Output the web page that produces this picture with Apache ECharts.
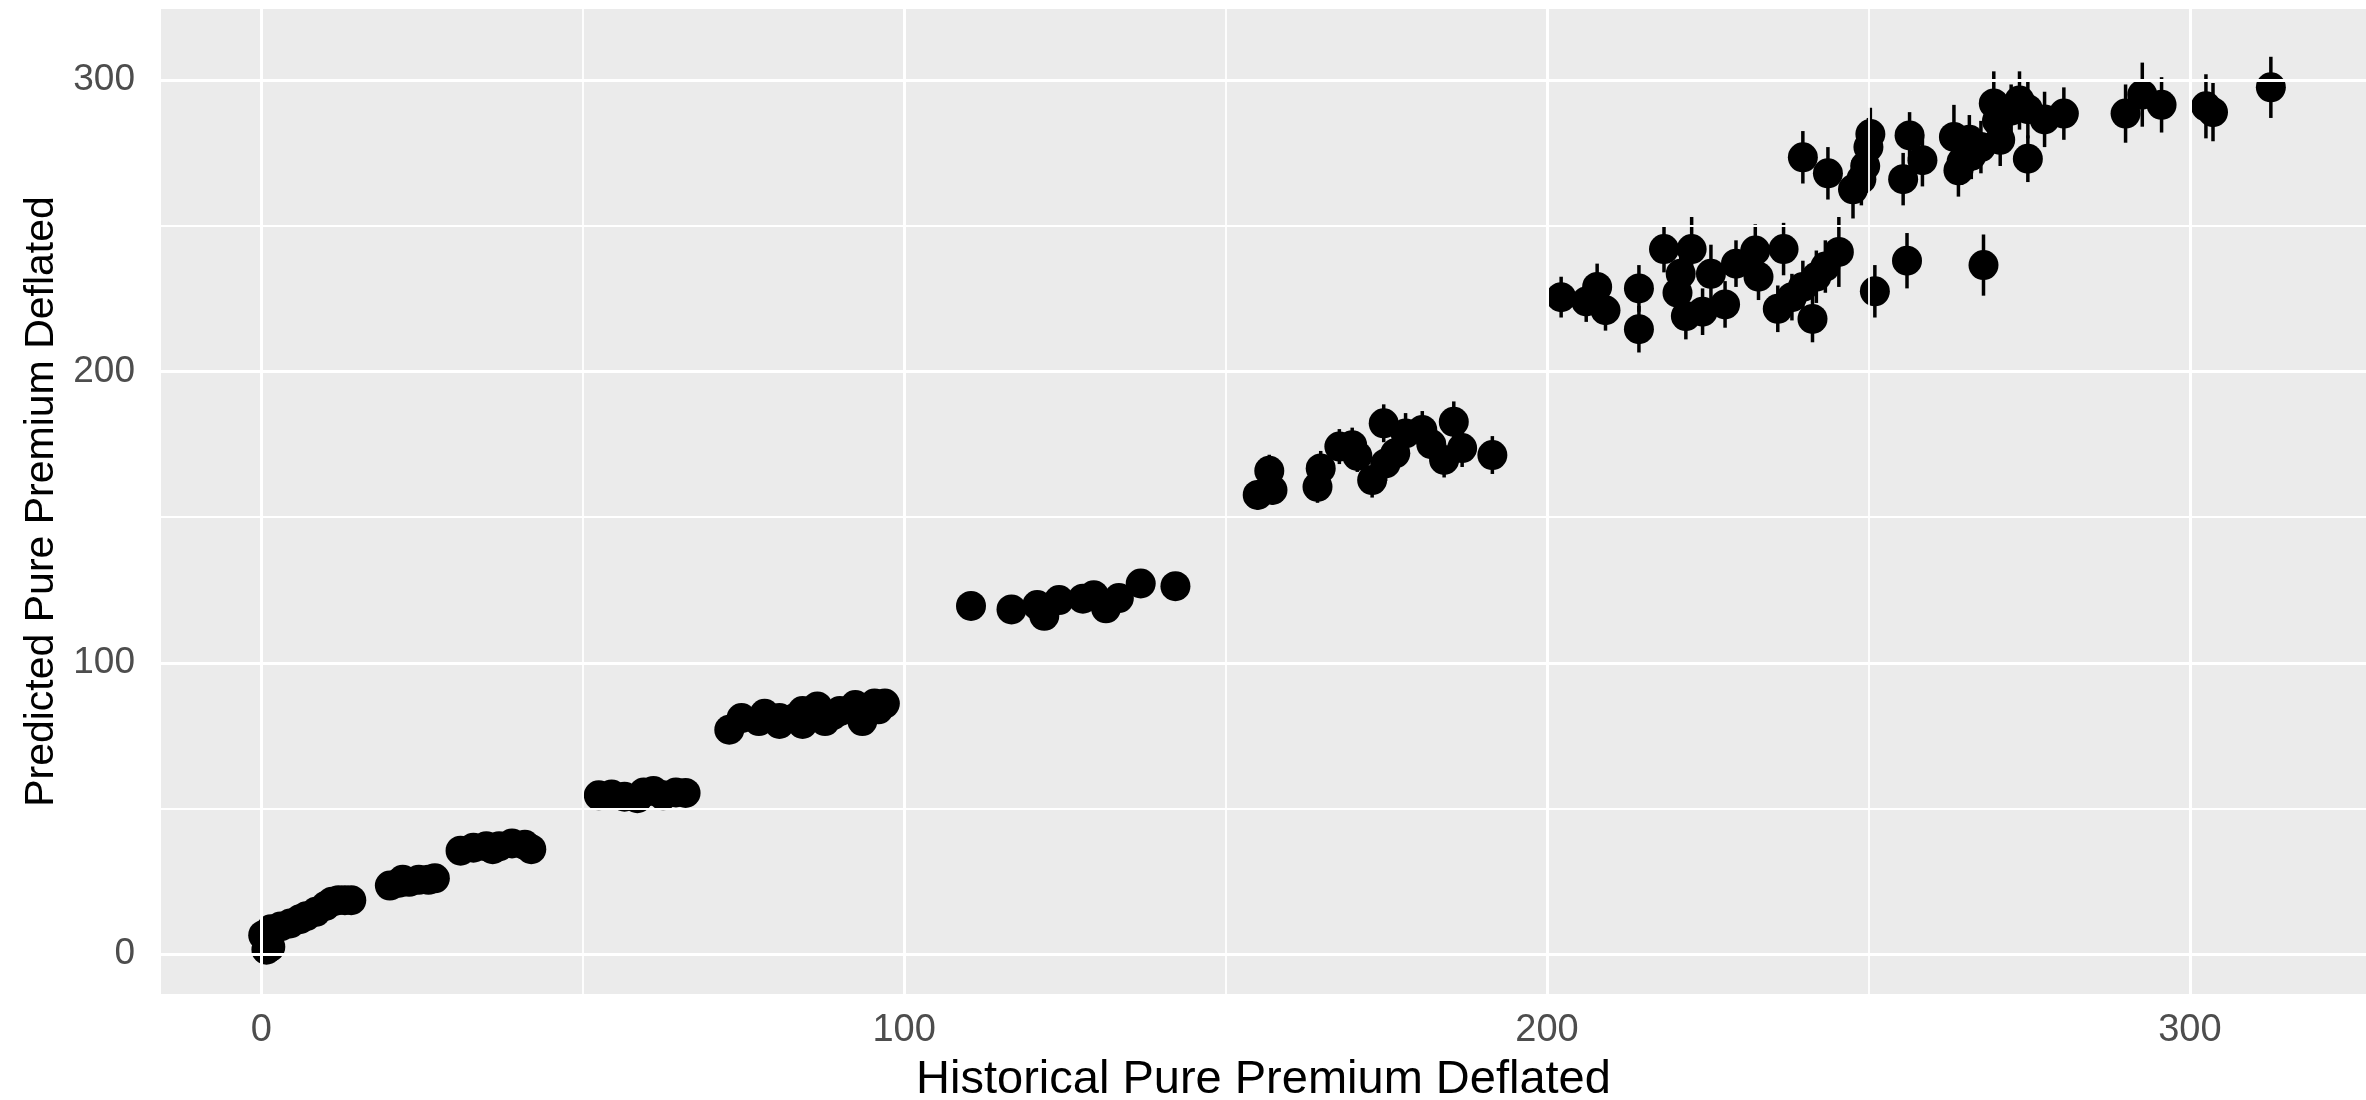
<!DOCTYPE html>
<html>
<head>
<meta charset="utf-8">
<title>Predicted vs Historical Pure Premium</title>
<script src="https://cdn.jsdelivr.net/npm/echarts@6/dist/echarts.min.js"></script>
<style>
  html, body { margin: 0; padding: 0; background: #ffffff; }
  #chart { width: 2366px; height: 1100px; }
</style>
</head>
<body>
<div id="chart"></div>
<script>
// Historical pure premium (deflated) for each rating cell
const historical = [
  0.8, 1.4, 0.3, 1.5, 3.0, 4.5, 6.0, 7.0, 8.5, 10.0, 11.0, 12.0, 13.0, 14.0,
  20.0, 21.5, 22.0, 23.0, 24.5, 26.0, 27.0,
  31, 33, 35, 36, 37, 39, 41, 42,
  52.5, 54.5, 56.5, 58.5, 59.5, 61, 62.5, 64.5, 66,
  72.8, 74.7, 77.4, 78.3, 80.6, 80.6, 83, 84.2, 84.2, 86.5, 87.7, 88.9, 90, 92.4, 93.5, 95.4, 96, 97,
  110.4, 116.7, 120.7, 121.8, 124.1, 127.8, 129.5, 131.4, 133.4, 136.8, 142.2,
  155, 156.8, 157.3, 164.3, 164.8, 167.7, 169.7, 170.5, 172.8, 174.6, 174.9, 176.4, 178, 180.6, 182, 184, 185.5, 186.8, 191.5,
  312.6, 302.5, 303.6, 292.6, 290, 295.6, 280.4, 277.4, 273.5, 274.8, 272.2, 269.5, 270, 270.5, 267.5, 265.7,
  263.3, 264, 264.5, 266, 274.8, 258.4, 256.4, 255.4, 250.3, 250, 249.5, 248.9, 247.6, 243.7, 239.8,
  245.4, 241.3, 235.9, 238.1, 239.8, 241.9, 243.3, 236.8, 232.4, 232.9, 229.4, 227.7, 225.5, 224.2,
  222.5, 221.6, 220.8, 220.3, 218.2, 214.3, 214.3, 209.1, 207.8, 206.1, 202.2, 251, 256, 267.9
];

// Model prediction (deflated) for the same cells
const predicted = [
  1.5, 2.5, 6.5, 8.5, 9.5, 10.5, 12.0, 13.0, 14.5, 16.5, 18.0, 18.5, 18.5, 18.5,
  23.5, 24.5, 25.5, 24.8, 25.5, 25.5, 26.0,
  35.5, 36.5, 37, 36, 37, 38, 37.5, 36,
  54.5, 54.8, 54, 53.5, 55.5, 56, 54.5, 55.5, 55.3,
  77, 81, 80, 82.5, 81, 79, 81, 83.4, 79, 85, 80, 82, 83.4, 85.5, 80, 86, 84, 86,
  119.5, 118.3, 119.8, 116.1, 121.5, 122, 123.2, 118.7, 122.2, 127.2, 126.3,
  157.6, 165.9, 159.3, 160.4, 166.7, 174.2, 174.7, 171, 162.7, 182.2, 168.4, 171.9, 178.7, 179.9, 175, 169.6, 182.7, 173.7, 171.3,
  297.5, 291, 289, 295, 288.5, 291.5, 288.5, 286.5, 293, 290, 289.5, 292, 286, 279.5, 277, 279.5,
  280.5, 269, 272, 274, 273, 272.5, 281, 266, 281.5, 277, 270.5, 266, 262.5, 268, 273.5,
  241, 218, 221.5, 225.5, 229, 232.5, 236, 242, 241.5, 232.5, 237, 223, 233.5, 220.5,
  242, 219, 233.5, 227, 242, 228.5, 214.5, 221, 229, 224, 225.5, 227.5, 238, 236.5
];

// Half-width of the prediction interval for each cell
const halfWidth = [
  1.5, 1.5, 1.5, 1.5, 1.5, 1.5, 1.5, 1.5, 1.5, 1.5, 1.5, 1.5, 1.5, 1.5,
  2, 2, 2, 2, 2, 2, 2,
  2.5, 2.5, 2.5, 2.5, 2.5, 2.5, 2.5, 2.5,
  3, 3, 3, 3, 3, 3, 3, 3, 3,
  3.5, 3.5, 3.5, 3.5, 3.5, 3.5, 3.5, 3.5, 3.5, 3.5, 3.5, 3.5, 3.5, 3.5, 3.5, 3.5, 3.5, 3.5,
  4, 4, 4, 4, 4, 4, 4, 4, 4, 4, 4,
  5, 5.5, 5, 5.5, 6, 6, 6, 5.5, 6, 6.5, 6, 6, 7, 6.5, 6, 6, 7, 6.5, 6.5,
  10.5, 11, 10, 11, 10, 9.5, 9, 9.5, 10, 10, 9, 11, 9, 9, 9, 8.5,
  11, 9, 8, 8, 8, 9, 8, 9, 9, 10, 9, 9, 10, 9, 9,
  12, 8, 8, 8, 9, 9, 9, 9, 9, 8, 8, 8, 10, 8,
  11, 8, 8, 8, 8, 8, 8, 7, 8, 7, 7, 9, 9.5, 10.5
];

// Axis breaks
const majorTicks = [0, 100, 200, 300];
const minorTicks = [50, 150, 250];

const xRange = [-15.6, 327.4];
const yRange = [-13.7, 324.4];

const FONT = "'Liberation Sans', Arial, Helvetica, sans-serif";

const points = historical.map((x, i) => [x, predicted[i]]);
const intervals = historical.map((x, i) => [x, predicted[i] - halfWidth[i], predicted[i] + halfWidth[i]]);

const gridLines = [
  ...minorTicks.map(v => ({ xAxis: v, lineStyle: { width: 1.8 } })),
  ...minorTicks.map(v => ({ yAxis: v, lineStyle: { width: 1.8 } })),
  ...majorTicks.map(v => ({ xAxis: v, lineStyle: { width: 3 } })),
  ...majorTicks.map(v => ({ yAxis: v, lineStyle: { width: 3 } }))
];

const chart = echarts.init(document.getElementById('chart'), null, { renderer: 'canvas' });

chart.setOption({
  animation: false,
  backgroundColor: '#ffffff',
  grid: {
    left: 161, right: 0, top: 9, bottom: 106,
    show: true, backgroundColor: '#EBEBEB', borderWidth: 0,
    containLabel: false,
    outerBoundsMode: 'none'
  },
  xAxis: {
    type: 'value',
    min: xRange[0], max: xRange[1],
    name: 'Historical Pure Premium Deflated',
    nameLocation: 'middle',
    nameGap: 63,
    nameTextStyle: { color: '#000000', fontSize: 47, fontFamily: FONT },
    axisLine: { show: false },
    axisTick: {
      show: true, length: 8, customValues: majorTicks,
      lineStyle: { color: '#333333', width: 2.5 }
    },
    axisLabel: {
      show: true, customValues: majorTicks, margin: 18,
      color: '#4D4D4D', fontSize: 38, fontFamily: FONT
    },
    splitLine: { show: false },
    minorSplitLine: { show: false }
  },
  yAxis: {
    type: 'value',
    min: yRange[0], max: yRange[1],
    name: 'Predicted Pure Premium Deflated',
    nameLocation: 'middle',
    nameGap: 98,
    nameTextStyle: { color: '#000000', fontSize: 41, fontFamily: FONT },
    axisLine: { show: false },
    axisTick: {
      show: true, length: 11, customValues: majorTicks,
      lineStyle: { color: '#333333', width: 2 }
    },
    axisLabel: {
      show: true, customValues: majorTicks, margin: 26,
      color: '#4D4D4D', fontSize: 37, fontFamily: FONT
    },
    splitLine: { show: false },
    minorSplitLine: { show: false }
  },
  series: [
    {
      // panel grid lines
      type: 'line',
      data: [],
      z: 1,
      silent: true,
      markLine: {
        silent: true,
        symbol: ['none', 'none'],
        label: { show: false },
        emphasis: { disabled: true },
        animation: false,
        lineStyle: { color: '#FFFFFF', type: 'solid' },
        data: gridLines
      }
    },
    {
      // prediction intervals
      type: 'custom',
      z: 2,
      silent: true,
      data: intervals,
      encode: { x: 0, y: [1, 2] },
      renderItem: function (params, api) {
        const x = api.value(0);
        const lo = api.coord([x, api.value(1)]);
        const hi = api.coord([x, api.value(2)]);
        return {
          type: 'line',
          shape: { x1: lo[0], y1: lo[1], x2: hi[0], y2: hi[1] },
          style: { stroke: '#000000', lineWidth: 3.5 }
        };
      }
    },
    {
      type: 'scatter',
      z: 3,
      silent: true,
      data: points,
      symbol: 'circle',
      symbolSize: 30,
      itemStyle: { color: '#000000', opacity: 1 }
    }
  ]
});
</script>
</body>
</html>
